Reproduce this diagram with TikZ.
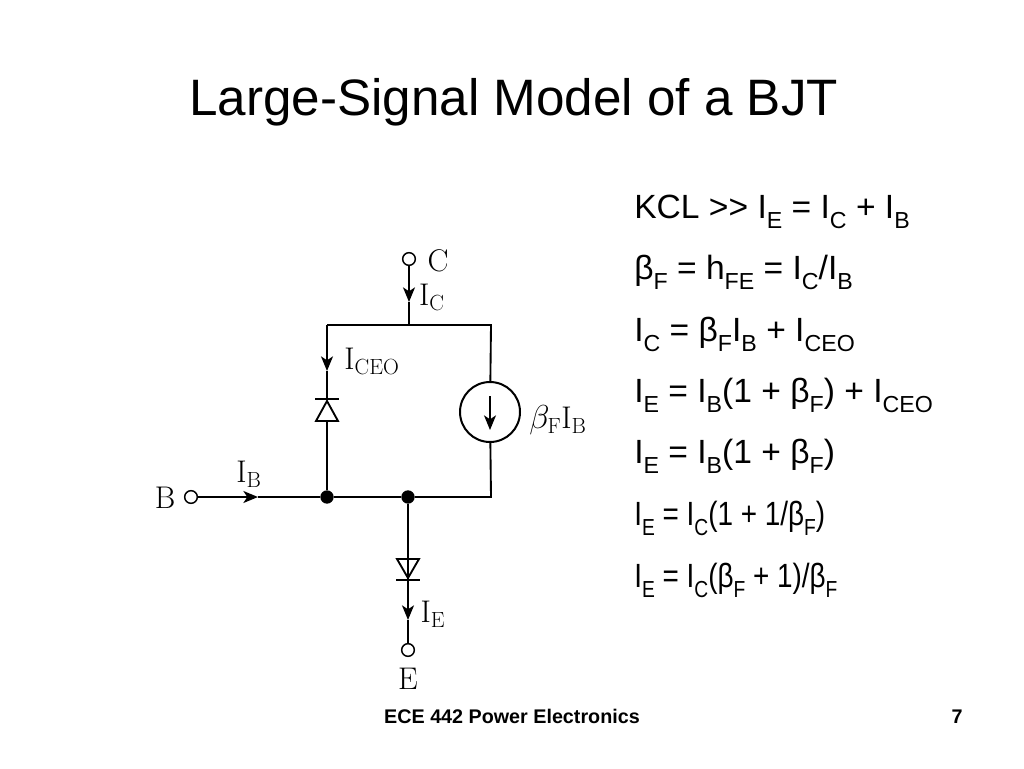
\documentclass[tikz,border=0pt]{standalone}
\usepackage{fontspec}
\usetikzlibrary{arrows.meta}
\newfontfamily\slidefont{Liberation Sans}
\newcommand{\lo}[1]{\raisebox{-0.3em}{\scalebox{0.69}{#1}}}
\newcommand{\narrow}[1]{\scalebox{0.83}[1]{#1}}
\tikzset{>={Stealth[width=9pt,length=11pt,inset=3pt]}}
\tikzset{
  wire/.style={line width=1.4pt,black},
  term/.style={circle,draw,line width=1.1pt,fill=white,inner sep=0pt,minimum size=9.5pt},
  junction/.style={circle,fill=black,inner sep=0pt,minimum size=10pt},
  schem/.style={font=\fontsize{23.5}{28}\selectfont,inner sep=0pt},
  eqn/.style={anchor=base west,inner sep=0pt,font=\slidefont\fontsize{25.2}{30}\selectfont},
  foot/.style={anchor=base,inner sep=0pt,font=\slidefont\bfseries\fontsize{14.8}{18}\selectfont}
}

\begin{document}
\begin{tikzpicture}[x=0.75pt,y=-0.75pt]

  \useasboundingbox (0,0) rectangle (1024,768);

  \coordinate (Tl) at (327,325);
  \coordinate (Tm) at (409,325);
  \coordinate (Tr) at (491,325);
  \coordinate (Br) at (491,497);
  \coordinate (Ca) at (409,302);
  \coordinate (La) at (327,371);
  \coordinate (Ba) at (258,497);
  \coordinate (Ea) at (408,620);
  \coordinate (D1) at (327,399);
  \coordinate (D1b) at (327,421);
  \coordinate (D2) at (408,580);

  \node[term] (C) at (409,259) {};
  \node[term] (B) at (191,497) {};
  \node[term] (E) at (408,650) {};
  \node[junction] (Jl) at (327,497) {};
  \node[junction] (Jr) at (408,497) {};
  \node[circle,draw,line width=1.5pt,inner sep=0pt,minimum size=45pt] (Src) at (490,412) {};
  \coordinate (Sa) at (490,396);
  \coordinate (Sb) at (490,430);

  \draw[wire,->] (C) -- (Ca);
  \draw[wire] (Ca) -- (Tm);
  \draw[wire] (Tl) -- (Tr) -- (Src);
  \draw[wire] (Src) -- (Br) -- (Jr);
  \draw[wire,->] (Tl) -- (La);
  \draw[wire] (La) -- (D1);
  \draw[wire] (D1b) -- (Jl);
  \draw[wire,->] (B) -- (Ba);
  \draw[wire] (Ba) -- (Jl) -- (Jr);
  \draw[wire] (Jr) -- (D2);
  \draw[wire,->] (D2) -- (Ea);
  \draw[wire] (Ea) -- (E);
  \draw[line width=1pt,->] (Sa) -- (Sb);

  \draw[wire] (315,399) -- (339,399);
  \draw[wire,line join=miter] (327,401) -- (316,421) -- (338,421) -- cycle;
  \draw[wire] (396,580) -- (420,580);
  \draw[wire,line join=miter] (408,578) -- (397,559) -- (419,559) -- cycle;

  \node[schem] (Cl) at (438,261) {C};
  \node[schem] (Ic) at (432,297) {I$_{\mathrm{C}}$};
  \node[schem] (Iceo) at (372,361) {I$_{\mathrm{CEO}}$};
  \node[schem] (Sl) at (558,420) {$\beta_{\mathrm{F}}\mathrm{I_B}$};
  \node[schem] (Bl) at (165,498) {B};
  \node[schem] (Ib) at (249,474) {I$_{\mathrm{B}}$};
  \node[schem] (Ie) at (433,614) {I$_{\mathrm{E}}$};
  \node[schem] (El) at (408,679) {E};

  \node[anchor=base west,inner sep=0pt,font=\slidefont\fontsize{38.4}{46}\selectfont] (title) at (189,115) {Large-Signal Model of a BJT};

  \node[eqn] (q1) at (634,218) {KCL >> I\lo{E} = I\lo{C} + I\lo{B}};
  \node[eqn] (q2) at (634,279) {β\lo{F} = h\lo{FE} = I\lo{C}/I\lo{B}};
  \node[eqn] (q3) at (634,341) {I\lo{C} = β\lo{F}I\lo{B} + I\lo{CEO}};
  \node[eqn] (q4) at (634,402) {I\lo{E} = I\lo{B}(1 + β\lo{F}) + I\lo{CEO}};
  \node[eqn] (q5) at (634,463) {I\lo{E} = I\lo{B}(1 + β\lo{F})};
  \node[eqn] (q6) at (634,525) {\narrow{I\lo{E} = I\lo{C}(1 + 1/β\lo{F})}};
  \node[eqn] (q7) at (634,587) {\narrow{I\lo{E} = I\lo{C}(β\lo{F} + 1)/β\lo{F}}};

  \node[foot] (course) at (512,723) {ECE 442 Power Electronics};
  \node[foot] (page) at (957,723) {7};

\end{tikzpicture}
\end{document}
